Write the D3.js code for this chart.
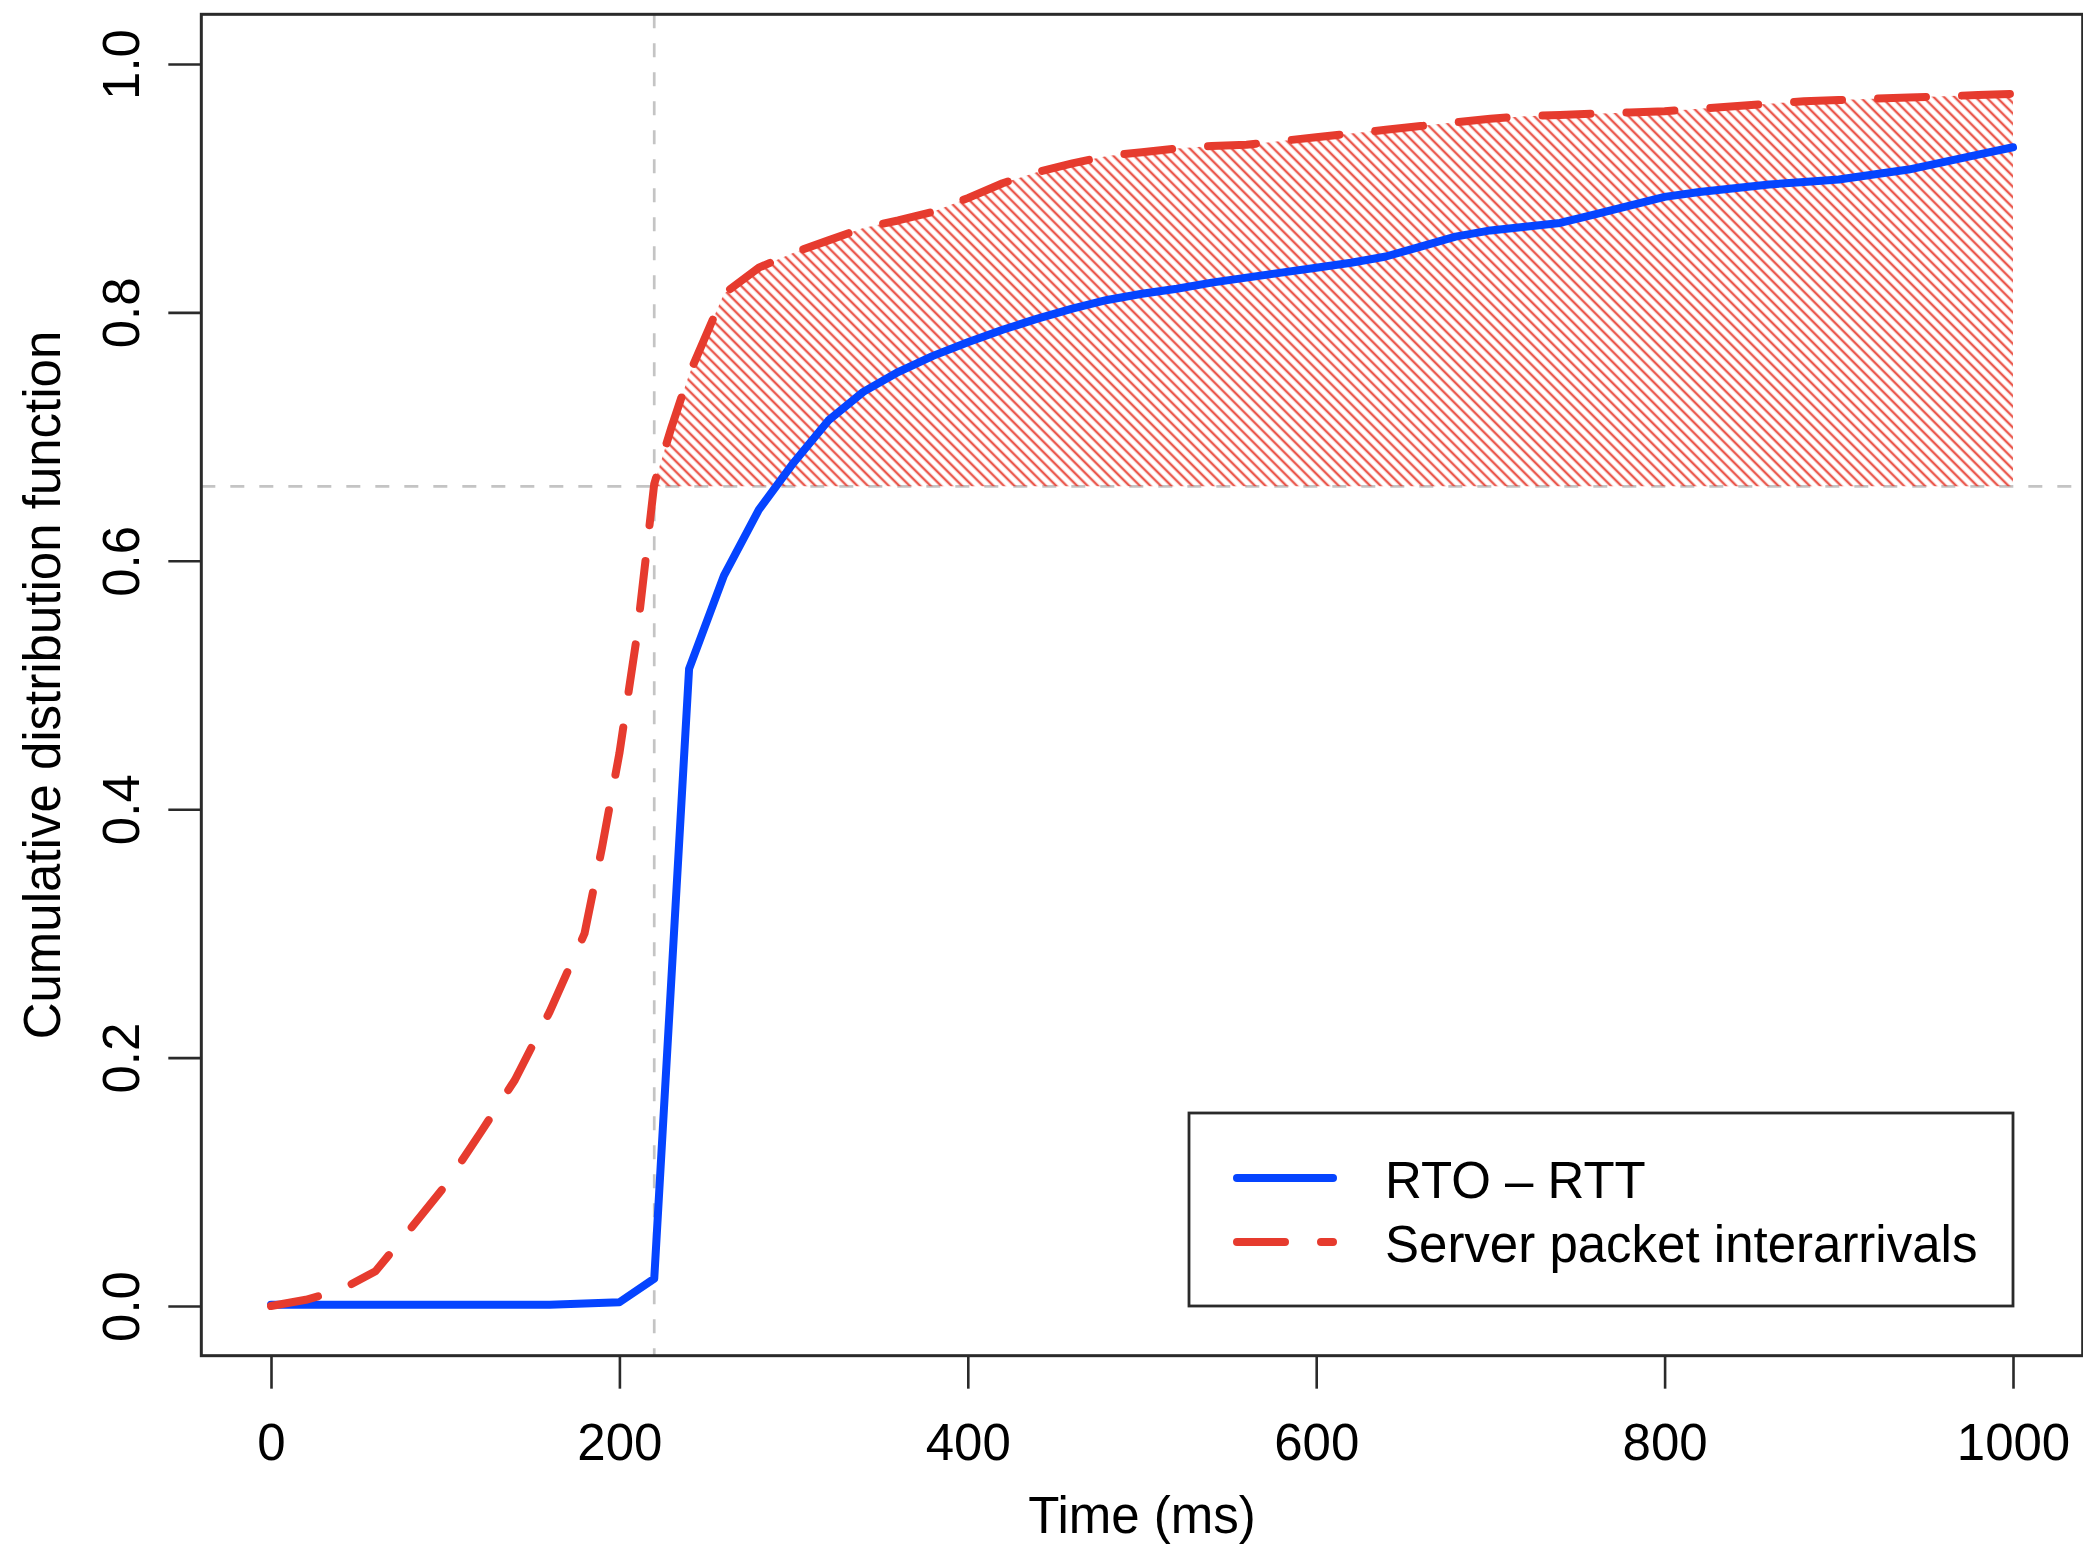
<!DOCTYPE html>
<html>
<head>
<meta charset="UTF-8" />
<title>CDF RTO - RTT</title>
<script src="https://d3js.org/d3.v7.min.js"></script>
<style type="text/css">
body {
    margin: 0;
    background-color: white;
}
svg text {
    font-family: "Liberation Sans", Arial, Helvetica, sans-serif;
    fill: black;
}
</style>
</head>
<body>
<svg id="chart" width="2083" height="1552"></svg>
<script type="text/javascript">
// RTO - RTT (solid blue)
var rttX = [0, 20, 40, 60, 80, 100, 120, 140, 160, 180, 200, 220, 240, 260, 280, 300, 320, 340, 360, 380,
    400, 420, 440, 460, 480, 500, 520, 540, 560, 580, 600, 620, 640, 660, 680, 700, 720, 740, 760, 780,
    800, 820, 840, 860, 880, 900, 920, 940, 960, 980, 1000];
var rttY = [0.001, 0.001, 0.001, 0.001, 0.001, 0.001, 0.001, 0.001, 0.001, 0.002, 0.003, 0.022, 0.513, 0.588, 0.641, 0.679, 0.713, 0.736, 0.752, 0.765,
    0.776, 0.786, 0.795, 0.803, 0.810, 0.815, 0.819, 0.824, 0.828, 0.832, 0.836, 0.840, 0.845, 0.853, 0.861, 0.866, 0.869, 0.872, 0.879, 0.886,
    0.893, 0.897, 0.900, 0.903, 0.905, 0.907, 0.911, 0.915, 0.921, 0.927, 0.933];

// Server packet interarrivals (dashed red)
var srvX = [0, 20, 40, 60, 80, 100, 120, 140, 160, 180, 190, 200, 210, 220, 230, 240, 260, 280, 300, 320,
    340, 360, 380, 400, 420, 440, 460, 480, 500, 520, 540, 560, 580, 600, 620, 640, 660, 680, 700, 720,
    740, 760, 780, 800, 820, 840, 860, 880, 900, 920, 940, 960, 980, 1000];
var srvY = [0.000, 0.005, 0.013, 0.028, 0.062, 0.097, 0.139, 0.182, 0.237, 0.300, 0.369, 0.445, 0.539, 0.662, 0.708, 0.750, 0.815, 0.836, 0.848, 0.858,
    0.868, 0.874, 0.881, 0.892, 0.904, 0.913, 0.920, 0.926, 0.929, 0.932, 0.934, 0.935, 0.938, 0.941, 0.944, 0.947, 0.950, 0.953, 0.956, 0.958,
    0.959, 0.960, 0.961, 0.962, 0.964, 0.966, 0.968, 0.970, 0.971, 0.972, 0.973, 0.974, 0.975, 0.976];

// reference lines and hatched region
var cutX = 220;
var cutY = 0.66;

var xTicks = [0, 200, 400, 600, 800, 1000];
var yTicks = [0, 0.2, 0.4, 0.6, 0.8, 1.0];
var seriesNames = ["RTO \u2013 RTT", "Server packet interarrivals"];
var xTitle = "Time (ms)";
var yTitle = "Cumulative distribution function";

var blue = "#0544ff", red = "#e63b2e", grey = "#c4c4c4", ink = "#2a2a2a";

var svg = d3.select("#chart");

// R style: 4% padding around data range
var x = d3.scaleLinear().domain([0, 1000]).range([271, 2013]);
var y = d3.scaleLinear().domain([0, 1]).range([1306, 64]);
var boxL = x(-40), boxR = x(1040), boxT = y(1.04), boxB = y(-0.04);

// hatch pattern
var defs = svg.append("defs");
defs.append("pattern")
    .attr("id", "hatch")
    .attr("patternUnits", "userSpaceOnUse")
    .attr("width", 7.4).attr("height", 7.4)
    .attr("patternTransform", "rotate(-45)")
  .append("line")
    .attr("x1", 3.7).attr("y1", -1).attr("x2", 3.7).attr("y2", 8.4)
    .attr("stroke", red).attr("stroke-width", 2.4).attr("stroke-opacity", 0.85);

// reference lines
svg.append("line")
    .attr("x1", boxL).attr("x2", boxR).attr("y1", y(cutY)).attr("y2", y(cutY))
    .attr("stroke", grey).attr("stroke-width", 2.7).attr("stroke-dasharray", "14 15");
svg.append("line")
    .attr("x1", x(cutX)).attr("x2", x(cutX)).attr("y1", boxT).attr("y2", boxB)
    .attr("stroke", grey).attr("stroke-width", 2.7).attr("stroke-dasharray", "14 15");

// hatched area between red curve and the horizontal cut
var area = [];
for (var i = 0; i < srvX.length; i++) {
    if (srvX[i] >= cutX) area.push([srvX[i], srvY[i]]);
}
area.push([1000, cutY]);
area.push([cutX, cutY]);
svg.append("path")
    .attr("d", "M" + area.map(function(p) { return x(p[0]) + "," + y(p[1]); }).join("L") + "Z")
    .attr("fill", "url(#hatch)");

var line = d3.line()
    .x(function(d) { return x(d[0]); })
    .y(function(d) { return y(d[1]); });

var rtt = rttX.map(function(v, i) { return [v, rttY[i]]; });
var srv = srvX.map(function(v, i) { return [v, srvY[i]]; });

svg.append("path").datum(rtt)
    .attr("d", line).attr("fill", "none")
    .attr("stroke", blue).attr("stroke-width", 8)
    .attr("stroke-linejoin", "round").attr("stroke-linecap", "round");

svg.append("path").datum(srv)
    .attr("d", line).attr("fill", "none")
    .attr("stroke", red).attr("stroke-width", 8)
    .attr("stroke-dasharray", "48 36")
    .attr("stroke-linejoin", "round").attr("stroke-linecap", "round");

// box
svg.append("rect")
    .attr("x", boxL).attr("y", boxT)
    .attr("width", boxR - boxL).attr("height", boxB - boxT)
    .attr("fill", "none").attr("stroke", ink).attr("stroke-width", 3);

// axes
var xAxis = svg.append("g")
    .attr("transform", "translate(0," + boxB + ")")
    .call(d3.axisBottom(x).tickValues(xTicks).tickSize(33).tickSizeOuter(0).tickFormat(d3.format("d")));
xAxis.select(".domain").remove();
xAxis.selectAll("line").attr("stroke", ink).attr("stroke-width", 2.6);
xAxis.selectAll("text")
    .attr("y", 104).attr("dy", null)
    .attr("font-size", 51)
    .attr("font-family", "Liberation Sans, Arial, Helvetica, sans-serif");

var yAxis = svg.append("g")
    .attr("transform", "translate(" + boxL + ",0)")
    .call(d3.axisLeft(y).tickValues(yTicks).tickSize(33).tickSizeOuter(0).tickFormat(d3.format(".1f")));
yAxis.select(".domain").remove();
yAxis.selectAll("line").attr("stroke", ink).attr("stroke-width", 2.6);
yAxis.selectAll("text")
    .attr("x", null).attr("dy", null)
    .attr("text-anchor", "middle")
    .attr("transform", "translate(-62,0) rotate(-90)")
    .attr("font-size", 51)
    .attr("font-family", "Liberation Sans, Arial, Helvetica, sans-serif");

// axis titles
svg.append("text")
    .attr("x", (boxL + boxR) / 2).attr("y", 1533)
    .attr("text-anchor", "middle").attr("font-size", 51)
    .text(xTitle);
svg.append("text")
    .attr("transform", "translate(60," + ((boxT + boxB) / 2) + ") rotate(-90)")
    .attr("text-anchor", "middle").attr("font-size", 51)
    .text(yTitle);

// legend
var legL = 1189, legR = x(1000), legT = 1113, legB = y(0);
svg.append("rect")
    .attr("x", legL).attr("y", legT)
    .attr("width", legR - legL).attr("height", legB - legT)
    .attr("fill", "white").attr("stroke", ink).attr("stroke-width", 2.8);

var legRows = [1178, 1242];
var legStyles = [
    {color: blue, dash: null},
    {color: red, dash: "48 36"}
];
seriesNames.forEach(function(name, i) {
    svg.append("line")
        .attr("x1", 1237).attr("x2", 1333)
        .attr("y1", legRows[i]).attr("y2", legRows[i])
        .attr("stroke", legStyles[i].color).attr("stroke-width", 8)
        .attr("stroke-linecap", "round")
        .attr("stroke-dasharray", legStyles[i].dash);
    svg.append("text")
        .attr("x", 1385).attr("y", legRows[i] + 20)
        .attr("font-size", 51)
        .text(name);
});
</script>
</body>
</html>
